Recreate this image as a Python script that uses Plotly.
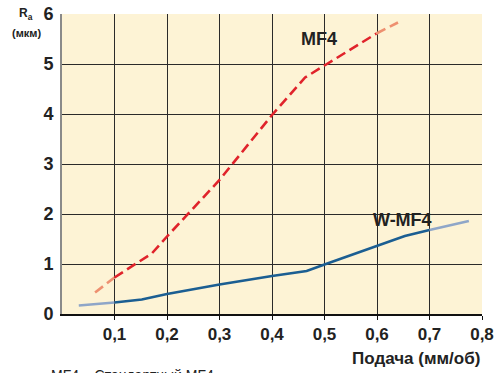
import plotly.graph_objects as go

# Data
mf4_x = [0.063, 0.1, 0.171, 0.2, 0.3, 0.4, 0.463, 0.5, 0.599, 0.64]
mf4_y = [0.43, 0.73, 1.21, 1.55, 2.68, 3.98, 4.73, 4.97, 5.61, 5.83]
wmf4_x = [0.032, 0.1, 0.152, 0.2, 0.3, 0.4, 0.466, 0.5, 0.6, 0.653, 0.7, 0.775]
wmf4_y = [0.17, 0.23, 0.29, 0.40, 0.59, 0.76, 0.86, 0.99, 1.36, 1.56, 1.68, 1.86]
x_ticks = [0.1, 0.2, 0.3, 0.4, 0.5, 0.6, 0.7, 0.8]
x_tick_labels = ["0,1", "0,2", "0,3", "0,4", "0,5", "0,6", "0,7", "0,8"]
y_ticks = [0, 1, 2, 3, 4, 5, 6]

RED = "#E0232B"
RED_FADE = "#EE9070"
BLUE = "#1B5E92"
BLUE_FADE = "#8FA6C8"
FONT = "Liberation Sans, Arial, sans-serif"
DASH = "10px,5px"

fig = go.Figure()
fig.add_trace(go.Scatter(x=mf4_x[:2], y=mf4_y[:2], mode="lines",
                         line=dict(color=RED_FADE, width=2.6, dash=DASH),
                         hoverinfo="skip", showlegend=False))
fig.add_trace(go.Scatter(x=mf4_x[1:-1], y=mf4_y[1:-1], mode="lines",
                         line=dict(color=RED, width=2.6, dash=DASH),
                         showlegend=False))
fig.add_trace(go.Scatter(x=mf4_x[-2:], y=mf4_y[-2:], mode="lines",
                         line=dict(color=RED_FADE, width=2.6, dash=DASH),
                         hoverinfo="skip", showlegend=False))
fig.add_trace(go.Scatter(x=wmf4_x[:2], y=wmf4_y[:2], mode="lines",
                         line=dict(color=BLUE_FADE, width=2.6),
                         hoverinfo="skip", showlegend=False))
fig.add_trace(go.Scatter(x=wmf4_x[1:-1], y=wmf4_y[1:-1], mode="lines",
                         line=dict(color=BLUE, width=2.6),
                         showlegend=False))
fig.add_trace(go.Scatter(x=wmf4_x[-2:], y=wmf4_y[-2:], mode="lines",
                         line=dict(color=BLUE_FADE, width=2.6),
                         hoverinfo="skip", showlegend=False))

fig.add_annotation(x=0.49, y=5.5, text="<b>MF4</b>", showarrow=False,
                   font=dict(family=FONT, size=18, color="#222"))
fig.add_annotation(x=0.648, y=1.88, text="<b>W-MF4</b>", showarrow=False,
                   font=dict(family=FONT, size=18, color="#222"))
fig.add_annotation(xref="paper", yref="paper", x=-0.065, y=1.0,
                   text="<b>R<sub>a</sub></b>", showarrow=False, xanchor="right",
                   yanchor="middle", font=dict(family=FONT, size=12, color="#222"))
fig.add_annotation(xref="paper", yref="paper", x=-0.045, y=0.935,
                   text="<b>(мкм)</b>", showarrow=False, xanchor="right",
                   yanchor="middle", font=dict(family=FONT, size=11, color="#222"))
fig.add_annotation(xref="paper", yref="paper", x=1.0, y=-0.147,
                   text="<b>Подача (мм/об)</b>", showarrow=False, xanchor="right",
                   yanchor="middle", font=dict(family=FONT, size=17, color="#222"))
fig.add_annotation(xref="paper", yref="paper", x=-0.03, y=-0.17,
                   text="MF4 – Стандартный MF4", showarrow=False, xanchor="left",
                   yanchor="top", font=dict(family=FONT, size=14, color="#222"))

fig.update_xaxes(range=[0, 0.8], tickvals=x_ticks,
                 ticktext=[f"<b>{t}</b>" for t in x_tick_labels],
                 showgrid=True, gridcolor="#2a2a2a", gridwidth=1,
                 showline=True, linecolor="#111", linewidth=2,
                 ticks="outside", ticklen=4, tickcolor="#111", tickwidth=1,
                 tickfont=dict(family=FONT, size=17, color="#222"),
                 zeroline=False, fixedrange=True)
fig.update_yaxes(range=[0, 6], tickvals=y_ticks,
                 ticktext=[f"<b>{v}</b>" for v in y_ticks],
                 showgrid=True, gridcolor="#2a2a2a", gridwidth=1,
                 showline=True, linecolor="#8a8a8a", linewidth=2,
                 ticks="", ticklabelstandoff=3,
                 tickfont=dict(family=FONT, size=18, color="#222"),
                 zeroline=False, fixedrange=True)

fig.update_layout(width=502, height=373,
                  margin=dict(l=62, r=20, t=14, b=59, autoexpand=False),
                  plot_bgcolor="#FDF3D5", paper_bgcolor="white",
                  showlegend=False)

fig.write_html("out.html", config={"displayModeBar": False},
               post_script="document.body.style.margin='0';document.body.style.overflow='hidden';")
